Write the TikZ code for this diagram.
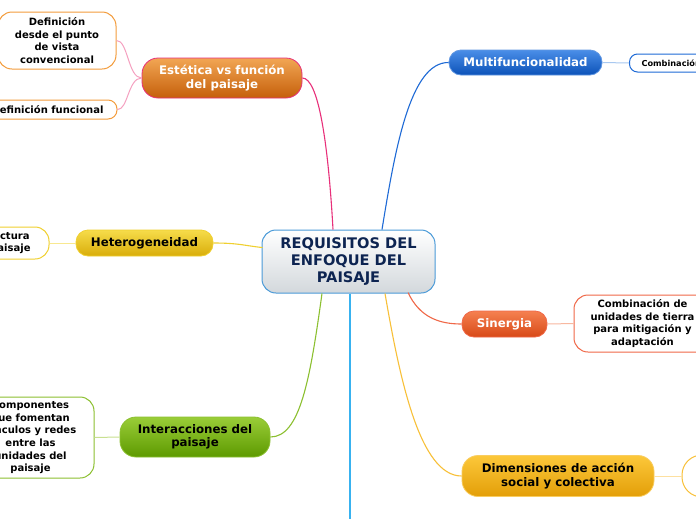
\documentclass[tikz,border=0pt]{standalone}
\usepackage{fontspec}
\setmainfont{DejaVu Sans}
\usetikzlibrary{calc}
\definecolor{navy}{HTML}{0D2451}
\definecolor{cenB}{HTML}{4A9AD8}
\definecolor{cenF}{HTML}{D3D8DC}
\definecolor{estT}{HTML}{F2A654}
\definecolor{estB}{HTML}{C55F0A}
\definecolor{estD}{HTML}{E8307A}
\definecolor{estL}{HTML}{F5A0C0}
\definecolor{orgBd}{HTML}{F39C3C}
\definecolor{mulT}{HTML}{4A8EE8}
\definecolor{mulB}{HTML}{0C52B8}
\definecolor{mulD}{HTML}{1E6AD6}
\definecolor{mulL}{HTML}{A8C8F0}
\definecolor{hetT}{HTML}{F6DC4A}
\definecolor{hetB}{HTML}{D9AD0A}
\definecolor{hetD}{HTML}{F0D030}
\definecolor{hetL}{HTML}{F8E890}
\definecolor{intT}{HTML}{9ACD38}
\definecolor{intB}{HTML}{5D9A00}
\definecolor{intD}{HTML}{8CC030}
\definecolor{intL}{HTML}{C8E090}
\definecolor{sinT}{HTML}{F58050}
\definecolor{sinB}{HTML}{D84A18}
\definecolor{sinD}{HTML}{F06848}
\definecolor{sinL}{HTML}{F8B8A0}
\definecolor{dimT}{HTML}{FCC83A}
\definecolor{dimB}{HTML}{E39E08}
\definecolor{dimD}{HTML}{F8C038}
\definecolor{dimL}{HTML}{FDE0A0}
\definecolor{skyC}{rgb}{0.22,0.70,0.94}
\tikzset{
  x=1pt, y=-1pt,
  box/.style={draw, line width=1pt, inner sep=0pt, align=center, font=\bfseries\fontsize{10}{12.7}\selectfont, fill=white, rounded corners=14pt},
  branch/.style={draw, inner sep=0pt, align=center, line width=0.8pt, font=\bfseries\fontsize{11.8}{14}\selectfont},
  conn/.style={line width=1.1pt},
  sub/.style={line width=1pt},
}
\begin{document}
\begin{tikzpicture}
\useasboundingbox (0,0) rectangle (696,520);
\clip (0,0) rectangle (696,520);
\fill[white] (0,0) rectangle (696,520);

\coordinate (bottomend) at (349.5,519);

% central
\node[draw=cenB, line width=1pt, rounded corners=14pt, top color=white, bottom color=cenF, minimum width=173pt, minimum height=63pt, inner sep=0pt, align=center, text=navy, font=\bfseries\fontsize{14.6}{17}\selectfont] (central) at (348.5,261.5) {REQUISITOS DEL\\ENFOQUE DEL\\PAISAJE};

% branch nodes
\node[branch, draw=estD, rounded corners=16pt, top color=estT, bottom color=estB, text=white, minimum width=160pt, minimum height=40pt] (estetica) at (222,78) {Estética vs función\\del paisaje};
\node[branch, draw=mulD!70, rounded corners=12pt, top color=mulT, bottom color=mulB, text=white, minimum width=153pt, minimum height=25pt] (multi) at (525.5,62.5) {Multifuncionalidad};
\node[branch, draw=hetD, rounded corners=12pt, top color=hetT, bottom color=hetB, text=black, minimum width=137pt, minimum height=26pt] (hetero) at (144.5,243) {Heterogeneidad};
\node[branch, draw=intD, rounded corners=16pt, top color=intT, bottom color=intB, text=black, minimum width=150pt, minimum height=40pt, font=\bfseries\fontsize{11.8}{13.4}\selectfont] (inter) at (195,437) {Interacciones del\\paisaje};
\node[branch, draw=sinD, rounded corners=12pt, top color=sinT, bottom color=sinB, text=white, minimum width=85pt, minimum height=26pt] (sinergia) at (504.5,324) {Sinergia};
\node[branch, draw=dimD!80, rounded corners=16pt, top color=dimT, bottom color=dimB, text=black, minimum width=192pt, minimum height=41pt] (dim) at (558,476) {Dimensiones de acción\\social y colectiva};

% leaf nodes
\node[box, draw=orgBd, minimum width=118pt, minimum height=57pt] (defconv) at (57,40.5) {Definición\\desde el punto\\de vista\\convencional};
\node[box, draw=orgBd, rounded corners=9pt, minimum width=139pt, minimum height=19pt] (deffunc) at (47.5,109.5) {Definición funcional};
\node[box, draw=mulD, rounded corners=8pt, anchor=west, minimum height=18pt, text width=118pt, inner xsep=12pt, align=left, font=\bfseries\fontsize{8.2}{10}\selectfont] (combmulti) at (629,63) {Combinación};
\node[box, draw=hetD, minimum width=98pt, minimum height=32pt] (estruct) at (0,243) {Estructura\\del paisaje};
\node[box, draw=intD, minimum width=127pt, minimum height=81pt] (compon) at (30.5,437.5) {Componentes\\que fomentan\\vínculos y redes\\entre las\\unidades del\\paisaje};
\node[box, draw=sinD, minimum width=137pt, minimum height=57pt] (combsin) at (642.5,323.5) {Combinación de\\unidades de tierra\\para mitigación y\\adaptación};
\node[box, draw=dimD, rounded corners=20pt, minimum width=80pt, minimum height=42pt] (dimleaf) at (722,476) {};

% connectors
\draw[conn, estD] ($(central.north)+(-15.5,0)$) .. controls (328,140) and (318,78) .. (estetica.east);
\draw[conn, mulD] ($(central.north)+(33.5,0)$) .. controls (395,150) and (410,62) .. (multi.west);
\draw[conn, hetD] (hetero.east) .. controls (240,243) and (246,246) .. ($(central.west)+(1,-14)$);
\draw[conn, intD] ($(central.south)+(-26.5,0)$) .. controls (310,380) and (300,437) .. (inter.east);
\draw[conn, sinD] ($(central.south)+(59.5,-1)$) .. controls (420,318) and (440,324) .. (sinergia.west);
\draw[conn, dimD] ($(central.south)+(36.5,0)$) .. controls (400,380) and (420,476) .. (dim.west);
\draw[color=skyC, line width=2pt] ($(central.south)+(1,0)$) -- (bottomend);

\draw[sub, estL] (estetica.west) .. controls (128,78) and (128,40) .. (defconv.east);
\draw[sub, estL] (estetica.west) .. controls (128,78) and (128,110) .. (deffunc.east);
\draw[sub, mulL] (multi.east) -- (combmulti.west);
\draw[sub, hetL] (hetero.west) -- (estruct.east);
\draw[sub, intL] (inter.west) -- (compon.east);
\draw[sub, sinL] (sinergia.east) -- (combsin.west);
\draw[sub, dimL] (dim.east) -- (dimleaf.west);
\end{tikzpicture}
\end{document}
